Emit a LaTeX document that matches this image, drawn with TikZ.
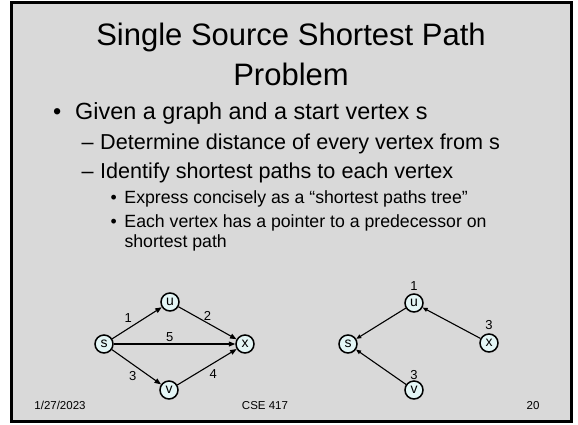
\documentclass[tikz,border=0pt]{standalone}
\usepackage{fontspec}
\setmainfont{Liberation Sans}
\usetikzlibrary{arrows.meta,positioning}
\definecolor{slidegray}{RGB}{217,217,217}
\definecolor{vertexfill}{RGB}{228,246,246}
\newcommand{\titlesize}{\fontsize{31}{31}\selectfont}
\newcommand{\levelone}{\fontsize{23.4}{28}\selectfont}
\newcommand{\leveltwo}{\fontsize{21.6}{25}\selectfont}
\newcommand{\levelthree}{\fontsize{17.7}{19.5}\selectfont}
\tikzset{
	>={Triangle[length=6.5pt,width=5pt]},
	vertex/.style={circle, draw, line width=1.5pt, fill=vertexfill, minimum size=18pt,
		inner sep=0pt, font=\fontsize{14}{14}\selectfont},
	wlabel/.style={font=\fontsize{13}{13}\selectfont, inner sep=2pt},
	textline/.style={anchor=base west, inner sep=0pt},
	footer/.style={anchor=base, inner sep=0pt, font=\fontsize{11.5}{12}\selectfont},
}

\begin{document}
\begin{tikzpicture}[
		x=1pt, y=-1pt,
		every edge/.style={draw, ->, line width=1.1pt},
		tree edge/.style={draw, line width=1.1pt, -{Triangle[length=5pt,width=4pt]}},
		every label/.style={wlabel},
		label distance=1pt
	]
	\useasboundingbox[fill=white] (0,0) rectangle (578,424);
	\draw[line width=3pt, fill=slidegray] (11.7,2.5) rectangle (571.3,421.3);

	% title and bullets
	\node[anchor=base, font=\titlesize] (title1) at (291,45) {Single Source Shortest Path};
	\node[anchor=base, font=\titlesize] (title2) at (291,85) {Problem};
	\node[textline, font=\levelone] (given) at (53,119) {\makebox[22pt][l]{•}Given a graph and a start vertex s};
	\node[textline, font=\leveltwo] (dist) at (81.5,149.3) {\makebox[18.5pt][l]{–}Determine distance of every vertex from s};
	\node[textline, font=\leveltwo] (ident) at (81.5,178.3) {\makebox[18.5pt][l]{–}Identify shortest paths to each vertex};
	\node[textline, font=\levelthree] (express) at (110.5,203.3) {\makebox[13.8pt][l]{•}Express concisely as a “shortest paths tree”};
	\node[textline, font=\levelthree] (pointer) at (110.5,227.7) {\makebox[13.8pt][l]{•}Each vertex has a pointer to a predecessor on};
	\node[textline, font=\levelthree] (pointer2) at (124.3,247) {shortest path};

	% graph with edge weights
	\node[vertex] (s) at (104,344) {s};
	\node[vertex] (u) at (170,302) {u};
	\node[vertex] (x) at (245,344) {x};
	\node[vertex] (v) at (169,390) {v};
	\path
		(s) edge node[wlabel, pos=.45, above left] {1} (u)
		(u) edge node[wlabel, above] {2} (x)
		(s) edge node[wlabel, pos=.46, above] {5} (x)
		(s) edge node[wlabel, pos=.55, below left] {3} (v)
		(v) edge node[wlabel, below right] {4} (x);

	% shortest paths tree with distances
	\node[vertex] (ts) at (348,344) {s};
	\node[vertex, label=above:1] (tu) at (414,303) {u};
	\node[vertex, label=above:3] (tx) at (489,343) {x};
	\node[vertex, label={[label distance=-2pt]above:3}] (tv) at (414,390) {v};
	\path[tree edge] (tu) -- (ts);
	\path[tree edge] (tx) -- (tu);
	\path[tree edge] (tv) -- (ts);

	\node[footer] (date) at (60,409) {1/27/2023};
	\node[footer] (course) at (265,409) {CSE 417};
	\node[footer] (page) at (533,409) {20};
\end{tikzpicture}
\end{document}
